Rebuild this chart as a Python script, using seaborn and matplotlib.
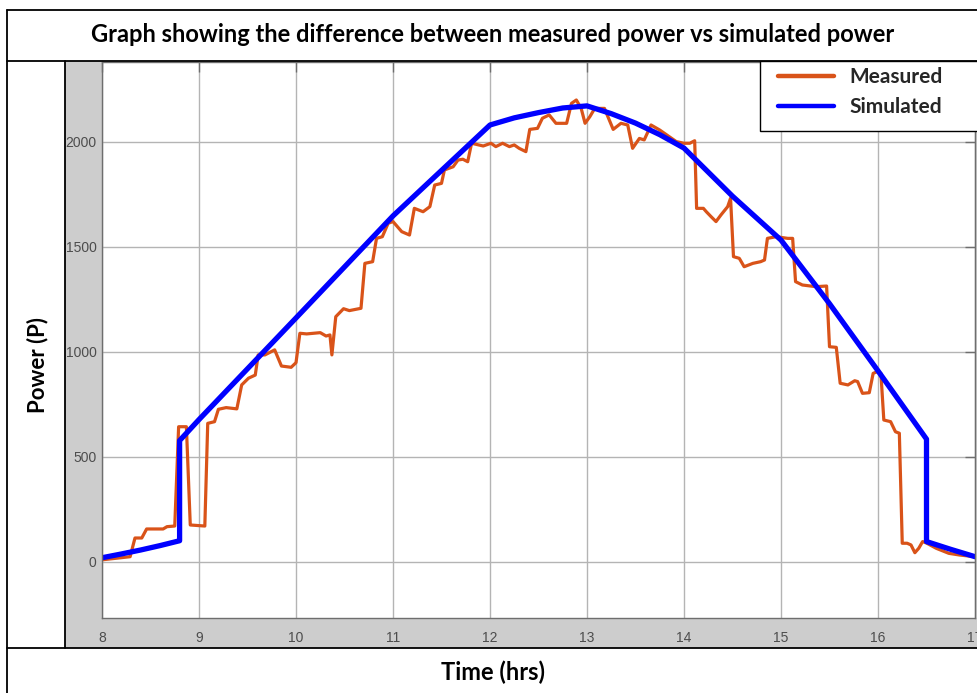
import numpy as np
import pandas as pd
import seaborn as sns
import matplotlib.pyplot as plt
from matplotlib.lines import Line2D
from matplotlib.patches import Rectangle

# measured power
measured_time = [8.00, 8.29, 8.34, 8.41, 8.46, 8.63, 8.67, 8.75, 8.79, 8.87,
                 8.91, 9.06, 9.09, 9.16, 9.20, 9.28, 9.39, 9.44, 9.51, 9.58,
                 9.61, 9.68, 9.78, 9.85, 9.95, 10.00, 10.04, 10.11, 10.25, 10.31,
                 10.35, 10.37, 10.41, 10.49, 10.55, 10.67, 10.71, 10.79, 10.83, 10.89,
                 10.95, 11.00, 11.09, 11.17, 11.22, 11.31, 11.38, 11.43, 11.50, 11.53,
                 11.62, 11.67, 11.72, 11.77, 11.81, 11.93, 12.01, 12.06, 12.13, 12.20,
                 12.25, 12.30, 12.37, 12.41, 12.49, 12.54, 12.61, 12.68, 12.79, 12.84,
                 12.89, 12.94, 12.98, 13.03, 13.08, 13.18, 13.27, 13.35, 13.42, 13.47,
                 13.54, 13.59, 13.66, 13.75, 13.92, 14.00, 14.06, 14.11, 14.13, 14.20,
                 14.23, 14.28, 14.33, 14.38, 14.45, 14.48, 14.51, 14.57, 14.62, 14.71,
                 14.79, 14.83, 14.86, 14.95, 15.07, 15.12, 15.15, 15.22, 15.36, 15.47,
                 15.50, 15.57, 15.61, 15.69, 15.76, 15.79, 15.84, 15.91, 15.95, 15.99,
                 16.03, 16.06, 16.13, 16.18, 16.22, 16.25, 16.30, 16.34, 16.38, 16.42,
                 16.46, 16.50, 16.60, 16.73, 16.84, 17.00]
measured_power = [10, 25, 114, 114, 157, 157, 168, 171, 644, 644,
                  176, 171, 660, 668, 727, 735, 729, 843, 875, 890,
                  986, 986, 1010, 933, 927, 949, 1089, 1086, 1092, 1076,
                  1081, 986, 1168, 1206, 1197, 1208, 1422, 1430, 1541, 1549,
                  1613, 1621, 1573, 1557, 1684, 1668, 1692, 1795, 1803, 1867,
                  1882, 1914, 1918, 1906, 1994, 1981, 1994, 1978, 1994, 1978,
                  1986, 1970, 1954, 2060, 2065, 2113, 2129, 2089, 2089, 2184,
                  2200, 2160, 2089, 2121, 2160, 2160, 2060, 2089, 2081, 1970,
                  2017, 2010, 2081, 2057, 2002, 1994, 1994, 2006, 1684, 1684,
                  1668, 1644, 1621, 1652, 1692, 1732, 1454, 1446, 1406, 1422,
                  1430, 1438, 1541, 1549, 1541, 1541, 1335, 1319, 1311, 1314,
                  1025, 1022, 851, 843, 863, 859, 803, 806, 898, 906,
                  898, 676, 668, 620, 613, 89, 89, 81, 44, 65,
                  97, 90, 65, 41, 33, 25]

# simulated power
simulated_time = [8.0, 8.2, 8.4, 8.6, 8.8, 8.8, 9.0, 10.0, 11.0, 12.0, 12.25, 12.5,
                  12.75, 13.0, 13.25, 13.5, 13.75, 14.0, 14.5, 15.0, 15.5, 16.0,
                  16.5, 16.5, 16.75, 17.0]
simulated_power = [20, 38, 57, 78, 101, 578, 678, 1162, 1648, 2081, 2115, 2140,
                   2162, 2172, 2135, 2090, 2035, 1971, 1742, 1533, 1230, 910,
                   585, 97, 60, 25]

x_ticks = [8, 9, 10, 11, 12, 13, 14, 15, 16, 17]
y_ticks = [0, 500, 1000, 1500, 2000]

df_meas = pd.DataFrame({"time": measured_time, "power": measured_power})
df_sim = pd.DataFrame({"time": simulated_time, "power": simulated_power})

sns.set_theme(style="whitegrid")
plt.rcParams['font.family'] = ['Liberation Sans', 'DejaVu Sans']

W, H = 978, 693
fig = plt.figure(figsize=(W / 100, H / 100), dpi=100)
fig.patch.set_facecolor("white")


def fx(px):
    return px / W


def fy(py):
    return 1 - py / H


# gray area behind the axes
fig.add_artist(Rectangle((fx(65), fy(648)), fx(978 - 65), (648 - 61) / H,
                         transform=fig.transFigure, facecolor="#cdcdcd",
                         edgecolor="none", zorder=-1))

ax = fig.add_axes([fx(102), fy(618), fx(975 - 102), (618 - 62) / H])
ax.set_facecolor("white")

sns.lineplot(data=df_meas, x="time", y="power", ax=ax, color="#D95319",
             linewidth=2.3, estimator=None, sort=False, label="Measured")
sns.lineplot(data=df_sim, x="time", y="power", ax=ax, color="#0000FF",
             linewidth=3.8, estimator=None, sort=False, label="Simulated")

ax.set_xlim(8, 17)
ax.set_ylim(-267, 2381)
ax.set_xticks(x_ticks)
ax.set_yticks(y_ticks)
ax.set_xlabel("")
ax.set_ylabel("")
ax.grid(True, color="#b4b4b4", linewidth=1.0)
for s in ax.spines.values():
    s.set_color("#6e6e6e")
    s.set_linewidth(1.0)
    s.set_visible(True)
ax.tick_params(direction="in", length=7, width=1, colors="#6e6e6e",
               labelcolor="#4d4d4d", labelsize=10, top=True, right=True)
ax.tick_params(axis="x", pad=9)
ax.tick_params(axis="y", pad=4)

# legend: white box with black edge, content drawn by legend
fig.add_artist(Rectangle((fx(760), fy(131)), fx(240), (131 - 61) / H,
                         transform=fig.transFigure, facecolor="white",
                         edgecolor="black", linewidth=1.0, zorder=6))
handles, labels = ax.get_legend_handles_labels()
ax.get_legend().remove()
leg = fig.legend(handles, labels, loc="upper left",
                 bbox_to_anchor=(fx(778), fy(67)),
                 frameon=False, borderaxespad=0, borderpad=0,
                 handlelength=2.7, handletextpad=0.75, labelspacing=0.48,
                 prop={"family": ["Lato", "DejaVu Sans"], "weight": "bold", "size": 15})
for ln in leg.get_lines():
    ln.set_linewidth(3.2)
leg.set_zorder(7)

# table-like frame
lines = [
    ((7, 978), (10, 10)),
    ((7, 978), (61, 61)),
    ((7, 978), (648, 648)),
    ((7, 7), (10, 693)),
    ((65, 65), (61, 648)),
]
for xs, ys in lines:
    fig.add_artist(Line2D([fx(xs[0]), fx(xs[1])], [fy(ys[0]), fy(ys[1])],
                          transform=fig.transFigure, color="black",
                          linewidth=1.3, zorder=8))

label_font = {"family": ["Lato", "DejaVu Sans"], "weight": "bold"}
fig.text(fx(493), fy(34), "Graph showing the difference between measured power vs simulated power",
         ha="center", va="center", fontsize=17, color="black", **label_font)
fig.text(fx(38), fy(365), "Power (P)", rotation=90, ha="center", va="center",
         fontsize=16, color="black", **label_font)
fig.text(fx(493), fy(672), "Time (hrs)", ha="center", va="center",
         fontsize=17, color="black", **label_font)

fig.savefig("out.png", dpi=100)
